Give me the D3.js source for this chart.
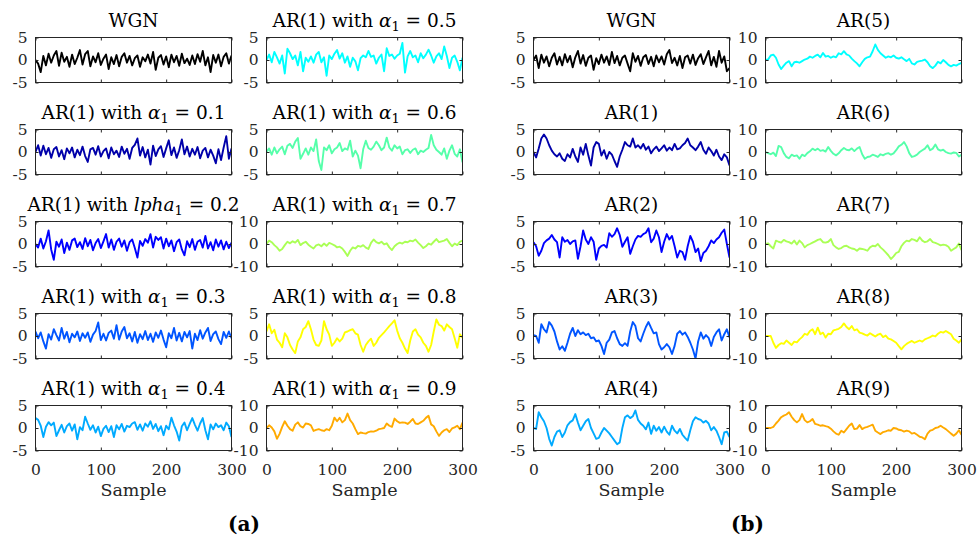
<!DOCTYPE html>
<html><head><meta charset="utf-8">
<script src="https://cdn.jsdelivr.net/npm/d3@7"></script>
<style>body{margin:0;background:#fff}svg{display:block}</style>
</head><body><svg id="c" width="977" height="540"></svg>
<script>
// ---------- data (one value every 4 samples) ----------
const sampleTicks = [0, 100, 200, 300];
const groupLabels = ["(a)", "(b)"];
const xLabel = "Sample";

const wgnA = [0.0,-0.8,-2.7,0.9,-1.2,1.4,-0.6,1.0,2.0,-1.3,1.6,-0.4,0.7,-1.5,1.2,-0.9,0.5,2.2,-1.0,1.3,2.0,-1.4,0.8,-0.5,1.5,-1.1,0.3,1.2,-2.0,0.6,-0.9,1.1,-1.4,0.7,1.5,-0.6,0.9,-1.2,0.4,1.0,-1.5,0.6,-0.3,1.2,-0.8,1.8,-2.2,0.5,1.1,-1.0,0.8,-1.6,1.2,-0.5,0.9,-1.3,1.4,-0.7,0.3,-1.1,1.0,-0.9,1.3,-0.4,2.0,-1.2,0.6,-2.7,1.1,-0.6,1.2,-1.4,0.7,1.5,-0.8,1.0];
const ar1a01 = [0.0,1.5,-0.8,1.4,-0.5,0.9,-1.3,0.6,1.1,-1.0,0.4,-1.6,0.8,-0.3,1.0,-1.2,0.5,-0.7,1.2,-0.9,-2.2,0.6,0.9,-0.6,1.3,-1.0,0.2,0.8,-1.4,1.0,-0.5,0.3,-1.1,1.2,-0.4,0.7,-1.5,0.9,1.6,3.0,-0.8,1.1,-1.2,0.5,-2.8,1.4,-0.9,0.6,1.3,-1.1,0.8,2.6,-0.7,1.0,-1.3,0.4,2.8,-0.5,1.2,-1.0,0.7,-0.6,1.1,-1.4,0.3,0.9,-1.2,0.5,-0.8,-2.5,0.6,-1.8,1.0,3.5,-1.5,0.8];
const ar1a02 = [0.0,-0.8,1.2,-1.0,0.6,3.0,-1.2,-3.5,0.5,-0.6,1.0,-2.0,0.3,-1.3,0.8,1.2,-0.7,0.4,-1.1,1.3,-0.5,0.9,-1.4,0.2,1.1,-0.9,0.6,2.2,-0.8,1.0,-1.3,0.5,1.2,-0.6,0.8,-1.5,0.4,1.0,-0.9,-3.0,0.7,-0.4,1.1,0.3,2.2,-0.8,1.6,0.9,1.5,-1.0,1.2,-0.5,0.8,-1.6,0.4,1.0,-1.2,-2.5,0.6,-0.7,1.1,-1.3,0.5,0.9,-0.8,1.8,-1.0,0.4,-1.4,1.0,-0.6,0.8,-1.2,0.5,-0.9,0.3];
const ar1a03 = [1.0,-0.5,0.8,-1.2,-2.8,0.4,-0.8,1.5,0.2,-1.0,1.8,-0.6,0.9,-1.4,0.5,-0.3,1.0,-1.1,0.6,-0.4,0.8,-1.3,0.3,1.1,3.0,-0.9,0.5,-1.0,0.7,1.2,-0.6,2.4,-0.8,1.0,2.0,-0.5,0.6,-1.2,0.9,-1.5,0.4,-0.7,1.1,-0.9,0.5,-1.3,0.8,-0.4,1.2,-0.8,-2.5,0.6,-0.5,1.8,-1.0,0.7,-1.2,0.9,-0.3,1.1,-2.8,0.5,-0.9,1.3,-0.6,0.8,1.8,-1.1,0.4,1.0,-0.7,-1.8,0.9,-0.4,1.0,-0.5];
const ar1a04 = [2.2,1.8,0.5,-2.0,0.3,1.3,0.6,1.2,-1.8,-0.5,0.7,-1.0,0.4,1.0,-0.6,0.8,-2.5,0.2,-0.5,2.5,1.0,-0.4,0.6,-1.0,0.3,-1.8,-0.2,0.5,-0.9,0.4,-2.0,0.6,-0.3,0.9,-0.8,0.5,0.2,1.0,1.3,-0.4,0.8,-0.6,1.0,0.3,1.5,-0.2,0.9,-0.7,0.4,-1.6,0.5,-0.3,2.3,0.6,-0.8,-2.8,0.4,1.2,-0.5,0.9,2.2,0.7,-0.6,1.0,2.2,-0.5,-2.5,0.8,-0.3,1.0,0.2,0.6,-0.5,1.2,0.4,-2.0];
const ar1a05 = [0.0,1.2,-0.5,1.8,0.6,-0.8,1.0,-3.0,2.5,1.5,0.2,1.0,-1.2,1.8,-2.5,0.5,-0.4,0.8,-0.6,1.2,1.8,-0.5,0.6,-3.5,1.0,0.2,1.4,2.2,0.3,1.5,-0.6,0.8,-1.5,0.5,-0.3,-2.3,0.4,1.0,0.6,2.0,0.7,1.0,-0.8,0.5,1.2,-2.5,2.6,0.9,1.2,0.3,1.0,1.4,3.8,-2.8,0.8,2.0,0.6,1.0,-0.5,1.5,0.4,1.2,2.3,1.0,-0.6,0.8,1.5,0.2,3.0,0.9,-1.8,0.5,1.0,-0.4,-2.3,0.5];
const ar1a06 = [0.0,0.8,-0.6,1.0,-0.3,0.6,1.2,-0.5,1.4,1.8,0.9,2.3,3.1,-1.5,-0.4,0.8,-0.6,1.0,0.2,2.8,-2.0,-4.0,1.0,0.4,1.5,-0.3,0.6,1.0,2.0,0.2,0.8,0.5,2.5,-1.0,0.3,-0.8,-3.6,0.6,2.5,0.9,0.5,1.2,2.3,1.5,0.4,1.0,3.2,1.0,0.3,1.5,0.8,1.2,-0.5,0.4,0.6,-0.2,0.5,0.8,-0.5,0.3,0.0,0.5,0.9,3.8,1.5,0.5,0.0,-0.6,0.8,-1.5,0.3,1.5,-0.4,-1.0,0.6,-2.3];
const ar1a07 = [0.0,1.5,0.8,-0.5,-1.5,-3.0,-2.2,-0.5,1.0,0.3,1.2,0.6,1.8,-0.5,0.4,1.0,-0.3,-1.2,-2.0,-0.6,-0.2,-1.0,0.2,-0.8,0.5,0.0,-0.6,-1.5,-1.2,-2.0,-3.5,-5.3,-3.0,-1.5,-2.0,-0.8,-1.2,-0.5,-1.6,-2.2,0.5,2.0,0.8,0.3,1.0,-0.2,0.3,-1.5,-2.7,-1.0,0.0,0.6,0.2,1.0,0.8,1.5,1.2,2.0,0.6,-0.5,-1.8,-1.0,0.2,-0.3,1.0,2.2,0.8,1.2,1.5,2.2,0.5,-1.0,0.2,-0.5,1.0,1.5];
const ar1a08 = [1.0,2.6,0.6,1.4,-0.8,-1.5,-2.5,0.6,-0.3,-2.0,-3.0,-3.8,-1.2,-0.3,1.5,2.0,3.3,1.5,-0.8,-2.0,-2.2,-1.0,3.3,1.5,0.3,-2.2,-1.5,-0.5,-1.2,-0.6,0.8,1.0,1.3,1.5,0.6,0.3,-2.0,-3.5,-2.0,-1.2,-0.6,-2.2,-1.5,-0.4,0.2,0.8,1.5,2.2,2.8,3.5,1.2,-0.5,-1.5,-2.8,-3.8,-1.0,1.0,1.5,0.3,-0.3,-1.5,-2.2,-3.5,-2.0,1.0,3.7,2.5,2.2,1.2,2.6,2.0,1.5,-0.5,-2.6,0.4,-0.4];
const ar1a09 = [0.0,1.2,0.2,-1.5,-4.8,-2.6,0.5,3.0,1.0,-0.5,-1.2,1.5,2.5,0.8,0.2,2.0,1.8,1.2,-1.3,-0.8,-0.5,-1.0,-1.3,-0.5,-1.0,1.0,4.6,3.0,4.5,2.5,3.5,6.4,3.5,2.0,-0.5,-2.7,-2.0,-2.3,-2.5,-1.8,-1.5,-1.6,-1.2,-0.5,-0.3,0.0,2.0,1.0,0.5,4.2,3.0,2.3,2.5,2.4,1.8,2.8,4.0,2.0,1.8,2.5,3.2,4.5,5.4,1.6,0.8,-1.5,-3.5,-2.0,-1.0,-0.5,-1.8,-0.2,0.3,1.0,-0.5,2.4];

const wgnB = [0.0,1.0,-1.8,1.2,-0.6,0.8,-1.4,0.5,1.5,-1.0,0.7,-1.2,1.3,-0.5,0.9,-1.6,0.6,2.0,-0.8,1.1,-1.3,0.5,1.0,-2.2,0.4,-0.9,1.2,-0.6,0.8,-1.1,1.8,-0.7,0.9,-1.2,0.5,1.0,-0.8,-2.5,1.5,-0.4,0.9,-1.3,0.6,1.1,-0.9,0.7,-1.4,1.0,-0.5,0.8,-1.0,1.3,2.2,-0.7,0.5,-1.2,0.9,-1.8,0.6,1.0,-0.8,1.2,-1.1,0.4,1.3,-0.9,0.6,2.0,-1.2,0.7,-1.5,2.0,-0.6,0.8,-2.5,-1.8];
const ar1 = [0.0,-1.2,0.8,3.0,3.9,3.0,1.5,0.3,-0.5,-1.0,-0.3,-1.5,-2.0,-0.5,-1.2,0.7,-1.0,-2.2,1.0,-0.6,1.8,-0.8,-3.0,1.0,2.2,1.8,-0.8,0.4,-1.5,0.0,-0.6,-2.0,-3.3,-1.0,0.5,2.2,1.5,1.2,3.0,1.0,1.5,0.8,1.8,0.5,1.2,-0.3,0.6,1.2,0.2,0.8,1.5,0.3,1.0,0.4,1.8,0.6,0.8,1.5,2.0,3.0,1.5,1.0,0.4,1.2,2.2,0.5,-0.4,1.0,0.2,-0.8,0.5,-1.0,-1.8,-0.5,-1.2,-3.0];
const ar2 = [0.4,-0.5,-2.6,-1.5,0.2,0.8,1.2,2.0,1.0,0.4,-3.0,1.5,0.5,0.9,0.0,0.6,0.8,-3.3,-0.5,3.0,1.0,0.0,1.5,0.5,-3.5,-1.0,-0.4,-0.2,-0.8,2.4,1.6,2.2,3.5,2.0,-0.6,0.5,1.5,-2.2,-0.5,1.0,1.8,1.6,2.2,2.5,3.5,0.4,1.2,3.0,1.5,-1.8,0.5,2.2,1.0,1.8,-0.5,-3.0,-1.5,-1.8,-3.5,-0.5,1.8,0.5,-1.8,-1.0,-3.8,-2.0,-1.5,-0.5,0.8,0.2,1.0,1.5,2.5,3.2,0.0,-3.0];
const ar3 = [0.2,0.0,-1.5,2.6,1.5,0.8,3.1,2.3,1.0,-1.2,-3.0,-2.3,-3.3,-1.5,0.5,1.8,0.0,1.3,0.4,0.8,0.2,0.5,-0.5,-0.3,-1.2,-1.0,-2.2,-4.0,-1.5,-0.8,0.8,1.1,-0.5,-1.8,-2.2,-1.6,-2.2,1.0,3.1,2.2,-0.5,-1.2,0.5,2.0,3.1,1.8,0.6,0.8,-1.8,-3.0,-2.5,-1.8,-2.5,-4.0,-2.2,0.5,1.1,0.3,0.8,-0.2,-1.5,-3.0,-5.0,-1.2,0.8,-0.6,0.2,-0.4,-2.2,-0.2,0.8,1.5,-1.0,0.4,1.5,-0.3];
const ar4 = [0.0,-0.2,3.5,2.4,1.5,0.0,-2.4,-3.9,-2.0,-0.8,-0.5,-2.0,-1.0,0.6,1.3,1.7,3.1,1.2,-0.5,0.5,1.5,2.0,0.0,-1.2,-2.4,-2.2,-1.0,0.0,-0.6,-1.2,-2.0,-2.8,-3.6,-3.2,0.0,2.4,2.8,2.2,2.6,3.9,1.8,1.0,0.5,-0.3,1.2,-1.3,0.5,-0.6,0.2,-1.0,0.3,-0.8,-1.5,0.5,-0.6,-1.2,-0.2,-1.5,-2.2,-2.8,-0.5,1.5,2.4,2.0,1.8,1.2,1.6,1.0,-0.5,0.2,-0.6,-2.0,-3.6,-1.0,-0.8,-2.0];
const ar5 = [0.0,0.2,2.0,2.4,1.0,-2.0,-4.0,-2.5,-1.2,-0.5,-2.8,-1.0,-0.8,-1.2,-0.5,0.2,0.6,1.5,1.0,1.8,2.4,1.2,3.1,1.5,1.8,1.0,1.6,1.2,3.0,2.5,3.9,2.5,2.0,0.6,-0.5,-1.5,-2.8,-1.0,0.5,1.2,1.5,3.9,6.9,4.5,3.0,2.0,1.0,1.6,1.2,2.0,1.0,0.6,1.2,0.3,-0.5,0.5,-1.5,-2.0,-0.8,-0.5,-0.3,0.2,-1.0,-2.8,-3.6,-2.5,-0.8,-1.5,0.0,-1.0,-2.2,-2.8,-2.2,-2.5,-1.8,-1.3];
const ar6 = [0.0,-0.5,-1.0,-0.3,-1.8,2.7,2.2,-0.5,-2.2,-2.8,-1.2,-1.8,-1.5,-3.0,-1.2,-1.8,-0.5,0.3,1.5,0.8,1.5,0.5,0.8,0.2,2.2,0.5,-0.8,-1.5,-0.6,0.8,1.8,1.0,0.8,1.6,0.4,1.5,2.2,-1.0,-3.0,-2.2,-2.0,-1.2,-1.6,-2.2,-1.0,-1.5,-0.8,-0.5,-1.2,-0.6,0.8,2.5,3.2,4.4,2.5,-0.5,-2.2,-1.8,-1.2,0.0,0.8,1.5,3.0,0.8,1.5,3.3,1.2,0.6,1.0,0.0,-0.5,-0.7,-0.2,-0.4,-2.0,-1.2];
const ar7 = [0.0,0.3,-1.0,-2.0,1.5,1.0,0.6,1.8,1.2,0.8,0.2,1.5,-0.2,1.5,0.4,-1.5,-0.5,0.0,0.6,1.2,1.8,2.2,0.8,0.6,1.0,2.2,-0.5,-1.5,-2.2,-1.8,-1.0,-0.8,-1.5,-2.0,-2.2,-3.0,-2.0,-2.2,-2.5,-3.0,-1.5,-0.8,-1.0,0.0,-1.5,-2.5,-3.7,-5.0,-6.7,-5.5,-4.0,-3.5,-1.0,0.5,1.5,1.2,2.2,1.8,1.2,3.0,1.5,0.8,1.2,2.2,0.8,0.5,0.0,-0.6,-0.3,-0.5,-1.2,-3.0,-2.2,-1.5,0.2,-2.7];
const ar8 = [0.0,0.0,0.0,-3.0,-5.3,-4.0,-3.2,-3.5,-2.0,-3.0,-4.0,-2.5,-2.8,-1.5,-0.5,1.0,0.5,2.2,3.0,0.8,3.7,0.8,1.5,-0.7,1.0,0.8,2.5,2.8,3.2,4.0,5.6,4.0,3.0,4.4,2.5,3.0,1.5,1.2,0.6,0.2,1.2,0.5,-0.2,0.6,1.0,-0.5,0.2,-1.2,-1.5,-2.2,-3.0,-4.5,-5.9,-4.5,-3.5,-2.8,-2.2,-3.0,-2.5,-2.0,-2.5,-1.5,-1.0,-0.5,0.2,-0.2,1.0,1.8,1.5,2.2,1.5,0.8,-1.2,-2.0,-3.0,-1.5];
const ar9 = [0.0,0.0,0.0,0.5,2.0,3.3,4.8,5.5,6.0,7.0,5.0,3.5,2.5,3.5,6.2,3.5,2.5,3.0,4.0,1.8,1.5,1.0,1.2,0.8,0.5,-0.3,-1.5,-2.5,-3.0,-1.2,-2.0,-0.5,1.0,2.0,-0.5,-0.3,1.3,-0.5,0.2,0.5,1.0,1.5,-1.2,-2.0,-2.7,-1.8,-1.5,-1.0,-1.2,0.0,-0.2,-0.8,-1.0,-1.6,-1.2,-1.5,-2.5,-2.2,-3.0,-3.9,-4.2,-5.0,-2.5,-1.2,-0.8,0.0,0.3,1.0,0.2,-0.5,-1.5,-2.5,-3.4,-2.5,-1.0,-3.0];

// series colours (MATLAB-like palette)
const colorsA = ["#000000","#0000aa","#0000ff","#0055ff","#00aaff","#00ffff","#55ffaa","#aaff55","#ffff00","#ffaa00"];
const colorsB = ["#000000","#0000aa","#0000ff","#0055ff","#00aaff","#00ffff","#55ffaa","#aaff55","#ffff00","#ffaa00"];
const alphaValues = ["0.1","0.2","0.3","0.4","0.5","0.6","0.7","0.8","0.9"];
const limitsA = [5,5,5,5,5,5,5,10,5,10];
const limitsB = [5,5,5,5,5,10,10,10,10,10];
const seriesA = [wgnA, ar1a01, ar1a02, ar1a03, ar1a04, ar1a05, ar1a06, ar1a07, ar1a08, ar1a09];
const seriesB = [wgnB, ar1, ar2, ar3, ar4, ar5, ar6, ar7, ar8, ar9];

// ---------- layout ----------
const svg = d3.select("#c");
const colX = [35.5, 266.5, 533.5, 765.5];
const rowY = [37.5, 129.5, 221.5, 313.5, 405.5];
const PW = 196, PH = 45;
const FONT = "'DejaVu Serif', serif";

function titleSegs(group, k) {
  if (k === 0) return [{t:"WGN"}];
  if (group === 1) return [{t:"AR(" + k + ")"}];
  const a = alphaValues[k-1];
  const sym = (a === "0.2") ? "lpha" : "α";
  return [{t:"AR(1) with "},{t:sym, it:true},{t:"1", sub:true},{t:" = " + a, after:true}];
}

const panels = [];
for (let g = 0; g < 2; g++) {
  for (let k = 0; k < 10; k++) {
    panels.push({
      g, k,
      col: g*2 + Math.floor(k/5),
      row: k % 5,
      data: g ? seriesB[k] : seriesA[k],
      color: g ? colorsB[k] : colorsA[k],
      lim: g ? limitsB[k] : limitsA[k]
    });
  }
}

const defs = svg.append("defs");
panels.forEach((p, idx) => {
  const x0 = colX[p.col], y0 = rowY[p.row];
  const x = d3.scaleLinear().domain([0,300]).range([x0, x0+PW]);
  const y = d3.scaleLinear().domain([-p.lim, p.lim]).range([y0+PH, y0]);
  const n = p.data.length;
  const step = 300/(n-1);

  defs.append("clipPath").attr("id","cp"+idx).append("rect")
    .attr("x",x0).attr("y",y0).attr("width",PW).attr("height",PH);

  const gp = svg.append("g");
  gp.append("path")
    .datum(p.data)
    .attr("clip-path","url(#cp"+idx+")")
    .attr("fill","none")
    .attr("stroke",p.color)
    .attr("stroke-width",1.9)
    .attr("stroke-linejoin","round")
    .attr("d", d3.line().x((d,i)=>x(i*step)).y(d=>y(d)));

  gp.append("rect").attr("x",x0).attr("y",y0).attr("width",PW).attr("height",PH)
    .attr("fill","none").attr("stroke","#262626").attr("stroke-width",1);

  const yTicks = [-p.lim, 0, p.lim];
  const axL = d3.axisLeft(y).tickValues(yTicks).tickSize(-3)
    .tickFormat(d=> d===0 ? "0" : (d<0 ? "-" + Math.abs(d) : String(d))).tickPadding(8);
  const aL = gp.append("g").attr("transform",`translate(${x0},0)`).call(axL);
  gp.append("g").attr("transform",`translate(${x0+PW},0)`).call(d3.axisRight(y).tickValues(yTicks).tickSize(-3).tickFormat(""));
  const axB = d3.axisBottom(x).tickValues(sampleTicks).tickSize(-3).tickPadding(13).tickFormat(d=>String(d));
  const aB = gp.append("g").attr("transform",`translate(0,${y0+PH})`).call(axB);
  gp.append("g").attr("transform",`translate(0,${y0})`).call(d3.axisTop(x).tickValues(sampleTicks).tickSize(-3).tickFormat(""));
  gp.selectAll(".domain").remove();
  gp.selectAll(".tick line").attr("stroke","#262626");
  aL.selectAll("text").attr("font-family",FONT).attr("font-size","15.5px").attr("fill","#262626");
  if (p.row === 4) {
    aB.selectAll("text").attr("font-family",FONT).attr("font-size","15.5px").attr("fill","#262626");
    gp.append("text").attr("x",x0+PW/2).attr("y",y0+PH+45.5)
      .attr("text-anchor","middle").attr("font-family",FONT).attr("font-size","17.5px")
      .attr("fill","#262626").text(xLabel);
  } else {
    aB.selectAll("text").remove();
  }

  const t = gp.append("text").attr("x",x0+PW/2).attr("y",y0-11)
    .attr("text-anchor","middle").attr("font-family",FONT).attr("font-size","18.5px").attr("fill","#000");
  titleSegs(p.g, p.k).forEach(s => {
    const ts = t.append("tspan").text(s.t);
    if (s.it) ts.attr("font-style","italic");
    if (s.sub) ts.attr("font-size","13px").attr("dy","4");
    if (s.after) ts.attr("dy","-4");
  });
});

const gx = [(colX[0]+colX[1]+PW)/2 - 5, (colX[2]+colX[3]+PW)/2];
groupLabels.forEach((l,i)=>{
  svg.append("text").attr("x",gx[i]).attr("y",531).attr("text-anchor","middle")
    .attr("font-family",FONT).attr("font-weight","bold").attr("font-size","20px").attr("fill","#000").text(l);
});
</script>
</body></html>
